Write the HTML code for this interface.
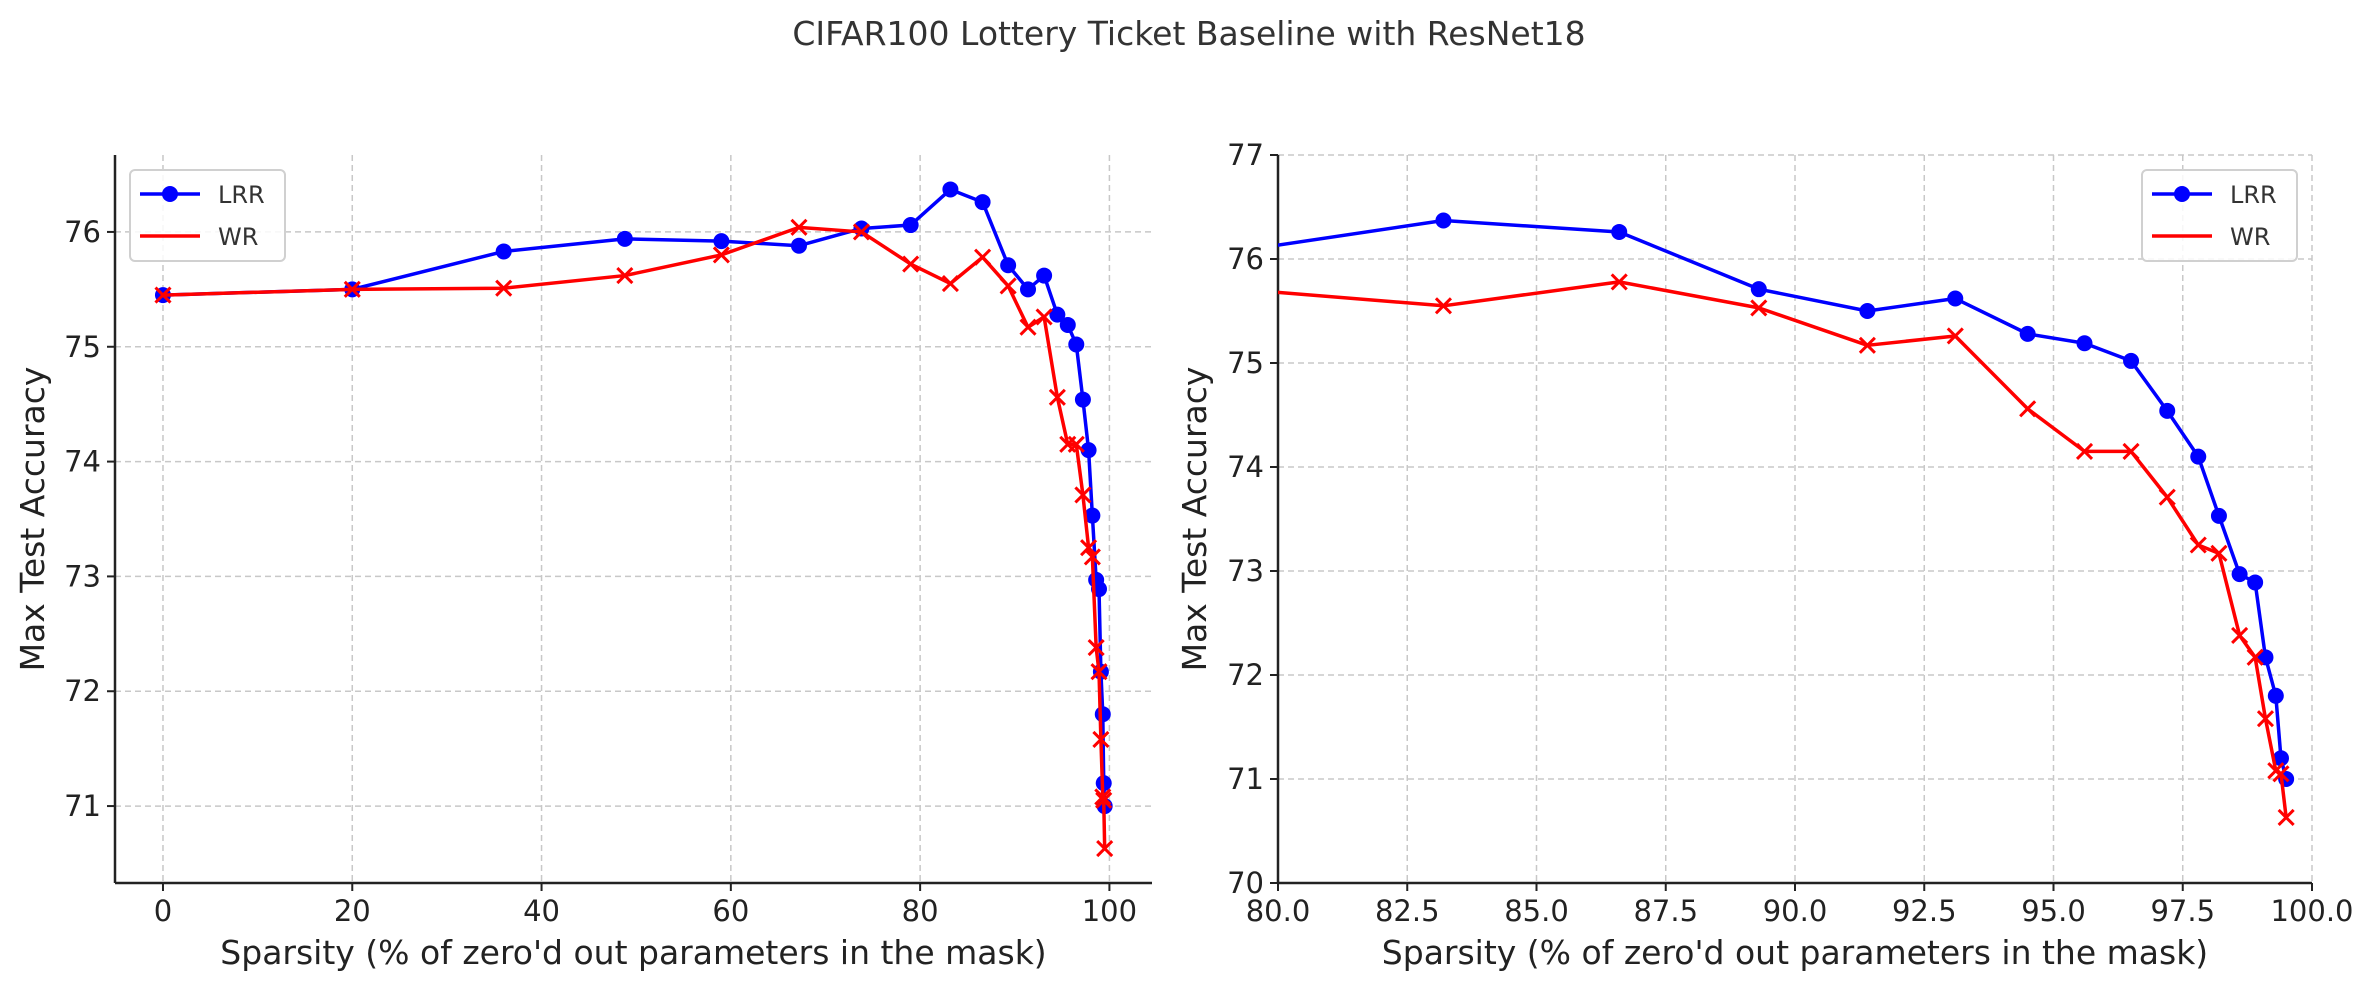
<!DOCTYPE html>
<html><head><meta charset="utf-8"><style>
body{margin:0;background:#fff;}
svg{display:block;font-family:"DejaVu Sans","Liberation Sans",sans-serif;}
</style></head><body>
<svg id="fig" width="2379" height="990" viewBox="0 0 2379 990" xmlns="http://www.w3.org/2000/svg">
<text x="1189" y="45" font-size="33" fill="#333" text-anchor="middle">CIFAR100 Lottery Ticket Baseline with ResNet18</text>
</svg>
<script>
const sparsity = [0,20,36,48.8,59,67.2,73.8,79,83.2,86.6,89.3,91.4,93.1,94.5,95.6,96.5,97.2,97.8,98.2,98.6,98.9,99.1,99.3,99.4,99.5];
const lrrAcc = [75.45,75.5,75.83,75.94,75.92,75.88,76.03,76.06,76.37,76.26,75.71,75.5,75.62,75.28,75.19,75.02,74.54,74.1,73.53,72.97,72.89,72.17,71.8,71.2,71.0];
const wrAcc = [75.45,75.5,75.51,75.62,75.8,76.04,76.0,75.72,75.55,75.78,75.53,75.17,75.26,74.56,74.15,74.15,73.71,73.25,73.17,72.38,72.17,71.58,71.08,71.05,70.63];
const leftXTicks = [0,20,40,60,80,100];
const leftYTicks = [71,72,73,74,75,76];
const rightXTicks = [80,82.5,85,87.5,90,92.5,95,97.5,100];
const rightYTicks = [70,71,72,73,74,75,76,77];

const NS='http://www.w3.org/2000/svg';
const svg=document.getElementById('fig');
function mk(tag,attrs,parent){const e=document.createElementNS(NS,tag);for(const k in attrs)e.setAttribute(k,attrs[k]);(parent||svg).appendChild(e);return e;}

function panel(id,L,R,T,B,xmin,xmax,ymin,ymax,xt,yt,xfmt,legendX,ylabX){
  const sx=v=>L+(v-xmin)/(xmax-xmin)*(R-L);
  const sy=v=>B-(v-ymin)/(ymax-ymin)*(B-T);
  const g=mk('g',{});
  
  
  const cp=mk('clipPath',{id:id+'clip'},g);
  mk('rect',{x:L,y:T,width:R-L,height:B-T},cp);
  xt.forEach(v=>{
    const x=sx(v);
    const gl=mk('line',{x1:x,x2:x,y1:T,y2:B,stroke:'#c8c8c8','stroke-width':1.5,'stroke-dasharray':'6,4'},g);
    
    
    mk('line',{x1:x,x2:x,y1:B,y2:B+8,stroke:'#222','stroke-width':2},g);
    const t=mk('text',{x:x,y:B+38,'font-size':29,fill:'#222','text-anchor':'middle'},g);
    t.textContent=xfmt(v);
    
    
  });
  yt.forEach(v=>{
    const y=sy(v);
    const gl=mk('line',{x1:L,x2:R,y1:y,y2:y,stroke:'#c8c8c8','stroke-width':1.5,'stroke-dasharray':'6,4'},g);
    
    
    mk('line',{x1:L-8,x2:L,y1:y,y2:y,stroke:'#222','stroke-width':2},g);
    const t=mk('text',{x:L-14,y:y+10,'font-size':29,fill:'#222','text-anchor':'end'},g);
    t.textContent=String(v);
    
    
  });
  mk('line',{x1:L,x2:L,y1:T,y2:B,stroke:'#222','stroke-width':2.5},g);
  mk('line',{x1:L,x2:R,y1:B,y2:B,stroke:'#222','stroke-width':2.5},g);
  const data=mk('g',{'clip-path':'url(#'+id+'clip)'},g);
  const lr=mk('polyline',{points:sparsity.map((s,i)=>sx(s)+','+sy(lrrAcc[i])).join(' '),fill:'none',stroke:'#0000ff','stroke-width':3.5,'stroke-linejoin':'round'},data);
  
  
  sparsity.forEach((s,i)=>{
    const m=mk('circle',{cx:sx(s),cy:sy(lrrAcc[i]),r:8,fill:'#0000ff'},data);
    
    });
  const wr=mk('polyline',{points:sparsity.map((s,i)=>sx(s)+','+sy(wrAcc[i])).join(' '),fill:'none',stroke:'#ff0000','stroke-width':3.5,'stroke-linejoin':'round'},data);
  
  
  sparsity.forEach((s,i)=>{const x=sx(s),y=sy(wrAcc[i]),d=7.5;
    const m=mk('path',{d:`M${x-d},${y-d}L${x+d},${y+d}M${x-d},${y+d}L${x+d},${y-d}`,stroke:'#ff0000','stroke-width':3},data);
    
    });
  const lg=mk('g',{},g);
  
  
  mk('rect',{x:legendX,y:170,width:155,height:91,rx:5,fill:'#fff','fill-opacity':0.85,stroke:'#d0d0d0','stroke-width':2},lg);
  mk('line',{x1:legendX+10,x2:legendX+70,y1:194,y2:194,stroke:'#0000ff','stroke-width':3.5},lg);
  mk('circle',{cx:legendX+40,cy:194,r:8,fill:'#0000ff'},lg);
  mk('line',{x1:legendX+10,x2:legendX+70,y1:236,y2:236,stroke:'#ff0000','stroke-width':3.5},lg);
  const t1=mk('text',{x:legendX+88,y:203,'font-size':24,fill:'#333'},lg);t1.textContent='LRR';
  
  
  const t2=mk('text',{x:legendX+88,y:245,'font-size':24,fill:'#333'},lg);t2.textContent='WR';
  
  
  const xl=mk('text',{x:(L+R)/2,y:964,'font-size':33,fill:'#222','text-anchor':'middle'},g);
  xl.textContent="Sparsity (% of zero'd out parameters in the mask)";
  
  
  const yl=mk('text',{x:0,y:0,'font-size':33,fill:'#222','text-anchor':'middle',transform:`translate(${ylabX},${(T+B)/2}) rotate(-90)`},g);
  yl.textContent='Max Test Accuracy';
  
  
}
panel('left',115,1152,155,883,-5.07,104.5,70.33,76.67,leftXTicks,leftYTicks,v=>String(v),130,44);
panel('right',1278,2312,155,883,80,100,70,77,rightXTicks,rightYTicks,v=>v.toFixed(1),2142,1206);
</script>
</body></html>
